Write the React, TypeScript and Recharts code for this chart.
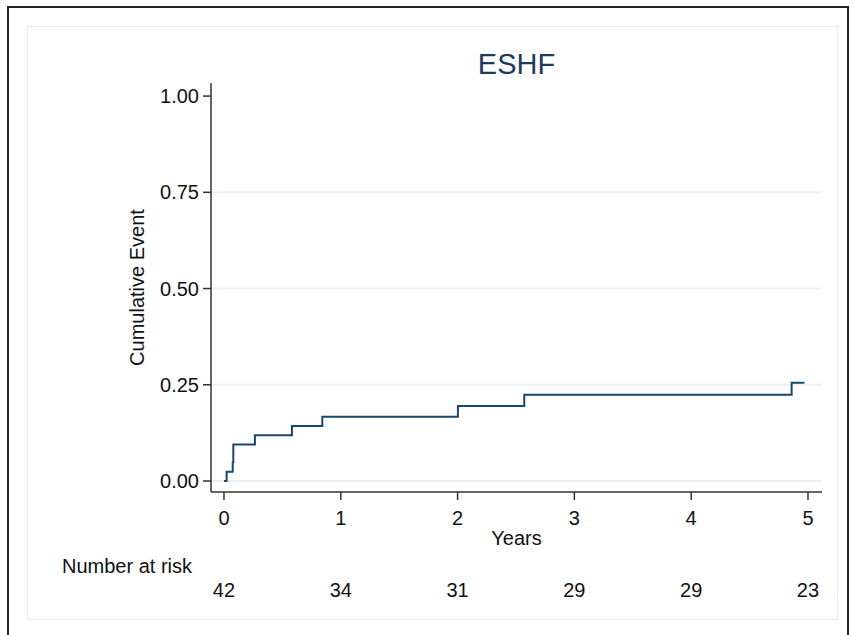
import React from 'react';
import { LineChart, Line, XAxis, YAxis, ReferenceLine } from 'recharts';

const times = [0, 0.023, 0.075, 0.08, 0.265, 0.582, 0.842, 2.003, 2.571, 4.86, 4.97];
const cumEvent = [0, 0.024, 0.048, 0.095, 0.119, 0.143, 0.167, 0.195, 0.224, 0.255, 0.255];
const xTicks = [0, 1, 2, 3, 4, 5];
const yTicks = [0, 0.25, 0.5, 0.75, 1];
const gridValues = [0, 0.25, 0.5, 0.75];
const atRisk = [42, 34, 31, 29, 29, 23];

const data = times.map((t, i) => ({ t, v: cumEvent[i] }));

const FONT = '"Liberation Sans", Arial, Helvetica, sans-serif';

const XTick = (props: any) => {
  const { x, y, payload, index } = props;
  const i = xTicks.indexOf(payload.value);
  return (
    <g>
      <text x={x} y={y + 23} textAnchor="middle" fontSize={20} fill="#111" fontFamily={FONT}>
        {payload.value}
      </text>
      {i >= 0 && (
        <text x={x} y={y + 95} textAnchor="middle" fontSize={20} fill="#111" fontFamily={FONT}>
          {atRisk[i]}
        </text>
      )}
      {index === 0 && (
        <text x={62} y={y + 71} textAnchor="start" fontSize={20} fill="#111" fontFamily={FONT}>
          Number at risk
        </text>
      )}
    </g>
  );
};

const YTick = (props: any) => {
  const { x, y, payload } = props;
  return (
    <text x={x} y={y + 7} textAnchor="end" fontSize={20} fill="#111" fontFamily={FONT}>
      {payload.value.toFixed(2)}
    </text>
  );
};

const YLabel = (props: any) => {
  const vb = props.viewBox || {};
  const cx = 144;
  const cy = vb.y + vb.height / 2;
  return (
    <text x={cx} y={cy} textAnchor="middle" fontSize={20} fill="#111" fontFamily={FONT}
      transform={`rotate(-90, ${cx}, ${cy})`}>
      Cumulative Event
    </text>
  );
};

const XLabel = (props: any) => {
  const vb = props.viewBox || {};
  const cx = vb.x + vb.width / 2;
  return (
    <text x={cx} y={545} textAnchor="middle" fontSize={20} fill="#111" fontFamily={FONT}>
      Years
    </text>
  );
};

export default function App() {
  return (
    <div style={{ position: 'absolute', left: 0, top: 0, width: 853, height: 635, overflow: 'hidden', background: '#fff' }}>
      <div style={{ position: 'absolute', left: 7, top: 6, width: 842, height: 660, border: '2px solid #222', boxSizing: 'border-box' }} />
      <div style={{ position: 'absolute', left: 27, top: 26, width: 811, height: 594, border: '1px solid #e3eef0', boxSizing: 'border-box' }} />
      <div style={{ position: 'absolute', left: 211, width: 611, top: 46, textAlign: 'center', fontFamily: FONT, fontSize: 29, color: '#1f3a60', lineHeight: '36px' }}>
        ESHF
      </div>
      <div style={{ position: 'absolute', left: 0, top: 0 }}>
        <LineChart width={853} height={635} data={data} margin={{ top: 83, right: 31, left: 151, bottom: 113 }}>
          <XAxis
            dataKey="t"
            type="number"
            domain={[-0.111, 5.12]}
            ticks={xTicks}
            allowDataOverflow
            height={30}
            stroke="#333"
            strokeWidth={1.5}
            tickSize={8}
            tickMargin={2}
            tick={<XTick />}
            label={<XLabel />}
          />
          <YAxis
            type="number"
            domain={[-0.0286, 1.034]}
            ticks={yTicks}
            allowDataOverflow
            width={60}
            stroke="#333"
            strokeWidth={1.5}
            tickSize={8}
            tickMargin={4}
            tick={<YTick />}
            label={<YLabel />}
          />
          {gridValues.map((g) => (
            <ReferenceLine key={g} y={g} stroke="#eaf2f3" strokeWidth={2} />
          ))}
          <Line
            type="stepAfter"
            dataKey="v"
            stroke="#1a476f"
            strokeWidth={2}
            dot={false}
            isAnimationActive={false}
          />
        </LineChart>
      </div>
    </div>
  );
}
